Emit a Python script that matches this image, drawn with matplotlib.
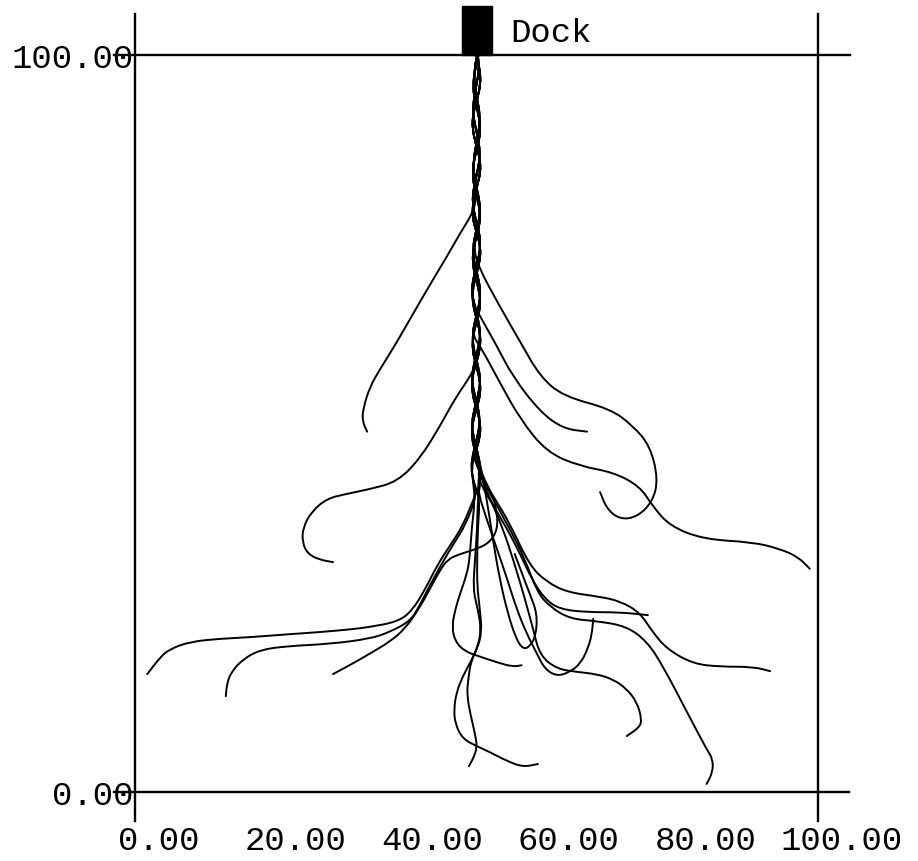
import matplotlib
matplotlib.use('Agg')
import matplotlib.pyplot as plt
from matplotlib.patches import Rectangle, PathPatch
from matplotlib.path import Path
from matplotlib.transforms import ScaledTranslation

# axis ticks
x_ticks = [0, 20, 40, 60, 80, 100]
x_tick_labels = ['0.00', '20.00', '40.00', '60.00', '80.00', '100.00']
y_ticks = [0, 100]
y_tick_labels = ['0.00', '100.00']

# dock block at the top of the field
dock_x, dock_y, dock_w, dock_h = 47.9, 100.0, 4.4, 6.6
dock_label = 'Dock'

# braided trunk below the dock (four strands)
trunk_y = [100, 98, 96, 94, 92, 90, 88, 86, 84, 82, 80, 78, 76, 74, 72, 70,
           68, 66, 64, 62, 60, 58, 56, 54, 52, 50, 48, 46, 44, 42, 40, 38]
trunk_x1 = [50.0, 50.5, 50.6, 50.1, 49.5, 49.4, 49.9, 50.5, 50.6, 50.0, 49.5, 49.4, 50.0, 50.6, 50.5, 49.9,
            49.4, 49.5, 50.1, 50.6, 50.5, 49.9, 49.3, 49.4, 50.0, 50.6, 50.5, 49.8, 49.3, 49.5, 50.2, 50.5]
trunk_x2 = [50.3, 49.8, 49.5, 49.7, 50.3, 50.6, 50.3, 49.7, 49.4, 49.7, 50.3, 50.6, 50.2, 49.6, 49.4, 49.8,
            50.4, 50.6, 50.1, 49.5, 49.4, 49.9, 50.5, 50.6, 50.0, 49.4, 49.3, 49.9, 50.5, 50.6, 50.0, 49.4]
trunk_x3 = [50.2, 50.4, 50.0, 49.6, 49.5, 49.9, 50.4, 50.5, 50.1, 49.6, 49.4, 49.8, 50.4, 50.6, 50.2, 49.6,
            49.3, 49.7, 50.3, 50.6, 50.2, 49.6, 49.3, 49.7, 50.3, 50.5, 50.1, 49.5, 49.2, 49.6, 50.3, 50.6]
trunk_x4 = [50.1, 49.7, 49.7, 50.1, 50.5, 50.4, 50.0, 49.6, 49.6, 50.0, 50.5, 50.5, 49.9, 49.5, 49.6, 50.2,
            50.6, 50.4, 49.8, 49.4, 49.6, 50.2, 50.6, 50.3, 49.7, 49.3, 49.6, 50.2, 50.6, 50.4, 49.8, 49.4]

# branches leaving the trunk, (x, y) in field units
path_a = [(49.8, 79.1), (47.6, 75.8), (45.7, 72.7), (42.2, 67.3), (38.4, 61.1), (35.9, 57.4),
          (34.4, 55.0), (33.4, 52.0), (33.3, 50.3), (34.0, 48.9)]
path_b = [(49.1, 56.4), (46.8, 53.3), (44.7, 49.7), (41.7, 45.2), (38.4, 42.1), (34.4, 41.1),
          (30.7, 40.4), (28.1, 39.8), (25.9, 38.1), (24.6, 35.9), (24.5, 33.9), (25.3, 32.3),
          (27.1, 31.5), (29.0, 31.2)]
path_c = [(49.6, 39.8), (48.0, 36.1), (46.1, 33.4), (44.2, 30.7), (42.5, 27.5), (40.5, 24.5),
          (38.4, 23.1), (34.4, 22.4), (31.9, 22.1), (27.1, 21.7), (22.3, 21.4), (16.8, 21.0),
          (12.4, 20.8), (8.1, 20.4), (5.1, 19.4), (3.7, 18.3), (1.8, 16.0)]
path_d = [(50.0, 40.2), (48.5, 36.4), (46.6, 33.6), (44.8, 30.8), (43.0, 27.7), (41.5, 25.0),
          (40.3, 23.2), (37.3, 21.7), (34.4, 20.8), (28.6, 20.1), (22.3, 19.8), (18.3, 19.3),
          (15.8, 18.0), (14.2, 16.4), (13.5, 14.9), (13.3, 13.0)]
path_e = [(51.0, 42.7), (52.3, 40.4), (53.0, 38.0), (53.1, 35.7), (52.0, 33.9), (50.1, 33.0),
          (47.6, 32.3), (45.8, 31.6), (44.6, 30.0), (43.1, 27.4), (41.6, 24.9), (39.5, 22.1),
          (37.3, 20.4), (34.8, 19.0), (32.2, 17.6), (29.0, 16.0)]
path_f = [(50.2, 71.4), (53.4, 65.9), (56.4, 61.1), (59.3, 56.4), (62.7, 53.7), (69.6, 52.0),
          (72.9, 49.7), (75.4, 47.0), (76.6, 42.5), (75.8, 39.4), (73.5, 37.3), (71.0, 37.0),
          (69.1, 38.4), (68.1, 40.7)]
path_g = [(50.5, 64.6), (53.0, 60.5), (55.3, 56.4), (59.3, 51.6), (62.7, 49.3), (66.2, 48.9)]
path_h = [(50.8, 60.1), (53.4, 55.6), (56.4, 50.6), (60.3, 46.1), (65.2, 44.2), (70.0, 43.4),
          (73.9, 41.5), (75.8, 38.8), (78.3, 36.1), (83.2, 34.3), (90.5, 33.9), (94.4, 33.0),
          (97.1, 31.9), (98.8, 30.3)]
path_j = [(50.5, 43.1), (52.7, 39.8), (54.9, 36.4), (57.8, 30.7), (60.3, 28.5), (63.3, 27.1),
          (68.1, 26.5), (71.0, 25.9), (73.9, 24.4), (75.8, 21.7), (77.9, 19.4), (81.7, 17.4),
          (85.7, 17.0), (90.5, 17.0), (93.0, 16.4)]
path_k = [(50.2, 42.5), (52.3, 39.1), (54.5, 35.7), (56.4, 32.3), (58.1, 28.9), (60.0, 26.2),
          (62.2, 24.8), (66.2, 24.4), (71.0, 24.4), (75.1, 24.0)]
path_l = [(50.2, 43.8), (52.4, 39.8), (54.9, 35.7), (57.1, 31.6), (58.9, 27.1), (60.8, 25.1),
          (63.7, 23.5), (67.6, 23.2), (72.0, 22.5), (75.0, 20.4), (77.3, 17.1), (80.8, 10.9),
          (83.7, 5.8), (84.6, 4.5), (84.6, 2.7), (83.7, 1.1)]
path_m = [(50.1, 41.1), (51.5, 37.0), (53.0, 33.0), (54.5, 28.9), (55.9, 24.8), (57.4, 21.4),
          (58.9, 18.7), (60.0, 16.7), (61.8, 15.7), (63.7, 16.3), (65.2, 17.4), (66.3, 19.4),
          (66.9, 21.4), (67.1, 23.5)]
path_p = [(49.8, 39.8), (49.3, 35.7), (49.0, 31.6), (48.6, 29.6), (47.6, 26.9), (46.9, 24.8),
          (46.4, 22.4), (46.9, 20.4), (48.3, 19.1), (50.1, 18.5), (53.0, 17.6), (55.3, 17.0),
          (56.6, 17.2)]
path_q = [(50.2, 39.8), (50.1, 35.7), (49.8, 31.6), (49.5, 27.5), (50.2, 24.8), (50.7, 22.1),
          (50.2, 19.7), (49.2, 17.8), (48.8, 15.3), (48.6, 13.3), (49.1, 10.6), (49.8, 7.9),
          (50.1, 6.1), (49.6, 4.7), (48.9, 3.5)]
path_r = [(50.5, 39.8), (50.2, 35.7), (50.1, 31.6), (50.1, 28.0), (50.5, 24.8), (50.8, 21.7),
          (50.1, 19.4), (49.1, 17.6), (48.0, 15.7), (47.1, 13.6), (46.7, 11.3), (46.9, 9.2),
          (48.0, 7.2), (50.1, 6.2), (52.0, 5.4), (54.5, 4.2), (56.8, 3.4), (59.0, 3.8)]
path_s = [(50.5, 44.5), (51.5, 39.8), (52.4, 34.3), (53.4, 28.9), (54.6, 24.2), (55.8, 20.8),
          (56.8, 19.4), (57.8, 19.7), (58.7, 21.2), (58.9, 24.2), (57.8, 26.9), (56.7, 29.6),
          (55.6, 32.3)]
path_u = [(50.2, 43.8), (52.0, 39.8), (53.9, 35.7), (55.6, 30.9), (57.1, 26.2), (58.3, 22.1),
          (59.3, 18.5), (61.8, 16.7), (64.7, 16.3), (67.6, 16.0), (70.0, 15.3), (72.0, 14.0),
          (73.5, 12.2), (74.2, 9.9), (73.9, 8.8), (72.0, 7.6)]

trunks = {1: trunk_x1, 2: trunk_x2, 3: trunk_x3, 4: trunk_x4}
branches = [(path_a, 1), (path_f, 2), (path_g, 3), (path_h, 4), (path_b, 1),
            (path_c, 2), (path_d, 3), (path_e, 4), (path_j, 1), (path_k, 2),
            (path_l, 3), (path_m, 4), (path_p, 1), (path_q, 2), (path_r, 3),
            (path_s, 4), (path_u, 1)]


def full_path(branch, trunk_id):
    """trunk strand down to where the branch leaves it, then the branch"""
    y0 = branch[0][1]
    pts = [(x, y) for x, y in zip(trunks[trunk_id], trunk_y) if y > y0 + 1]
    return pts + list(branch)


def smooth_path(pts):
    """quadratic curve through the read points (points act as control points)"""
    verts = [pts[0], ((pts[0][0] + pts[1][0]) / 2, (pts[0][1] + pts[1][1]) / 2)]
    codes = [Path.MOVETO, Path.LINETO]
    for i in range(1, len(pts) - 1):
        mid = ((pts[i][0] + pts[i + 1][0]) / 2, (pts[i][1] + pts[i + 1][1]) / 2)
        verts += [pts[i], mid]
        codes += [Path.CURVE3, Path.CURVE3]
    verts.append(pts[-1])
    codes.append(Path.LINETO)
    return Path(verts, codes)


fig = plt.figure(figsize=(9.18, 8.62), dpi=100)
ax = fig.add_axes([0.147, 0.080, 0.744, 0.855])
ax.set_xlim(0, 100)
ax.set_ylim(0, 100)

for branch, tid in branches:
    pp = PathPatch(smooth_path(full_path(branch, tid)), fill=False, edgecolor='black',
                   linewidth=1.4, joinstyle='round', capstyle='round', clip_on=False)
    ax.add_patch(pp)

# frame drawn as crossing lines that run past the corners
for sp in ax.spines.values():
    sp.set_visible(False)
ax.axhline(0, xmin=-0.03, xmax=1.045, color='black', linewidth=1.7, clip_on=False)
ax.axhline(100, xmin=-0.03, xmax=1.047, color='black', linewidth=1.7, clip_on=False)
ax.axvline(0, ymin=-0.039, ymax=1.056, color='black', linewidth=1.7, clip_on=False)
ax.axvline(100, ymin=-0.039, ymax=1.056, color='black', linewidth=1.7, clip_on=False)

ax.add_patch(Rectangle((dock_x, dock_y), dock_w, dock_h, color='black', clip_on=False, zorder=5))
ax.text(55.0, 103.0, dock_label, fontsize=24.5, family='Liberation Mono', ha='left', va='center')

ax.set_xticks(x_ticks)
ax.set_xticklabels(x_tick_labels, fontsize=24.5, family='Liberation Mono')
ax.set_yticks(y_ticks)
ax.set_yticklabels(y_tick_labels, fontsize=24.5, family='Liberation Mono')
ax.tick_params(axis='x', length=0, pad=24)
ax.tick_params(axis='y', length=0, pad=1)
for lab in ax.get_xticklabels():
    lab.set_transform(lab.get_transform() + ScaledTranslation(0.24, 0, fig.dpi_scale_trans))

fig.savefig('out.png', dpi=100)
